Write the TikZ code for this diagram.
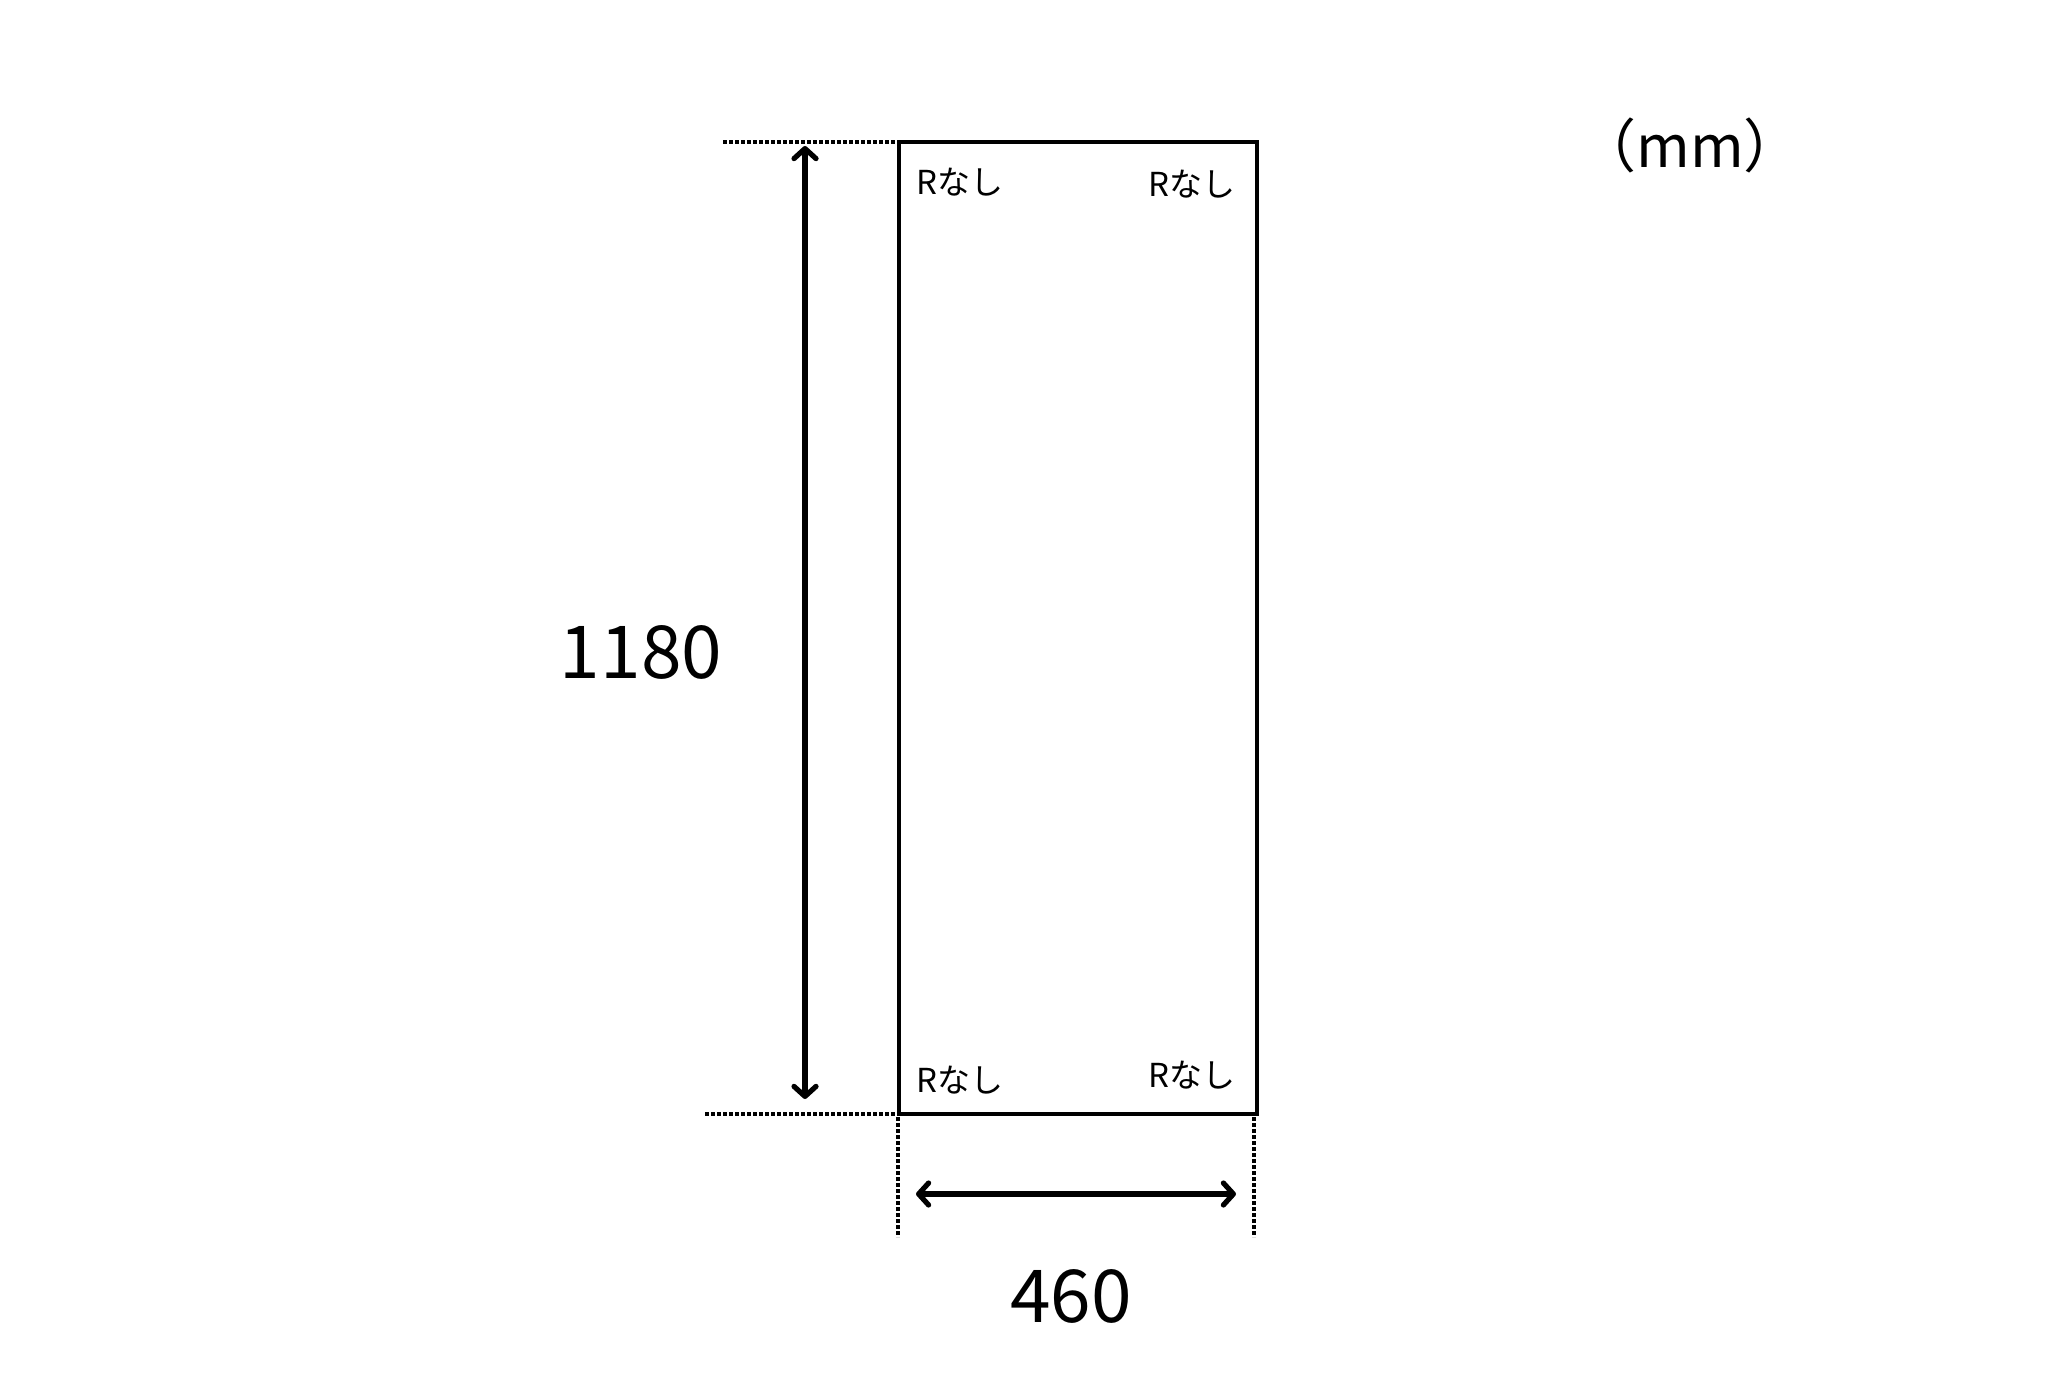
\documentclass[tikz,border=0pt]{standalone}
\usepackage{fontspec}
\setmainfont{Noto Sans CJK JP}
\usetikzlibrary{arrows.meta}
\tikzset{
  outline/.style={line width=2.3pt, line join=miter},
  dimline/.style={line width=2.6pt, line cap=round,
    arrows={Straight Barb[length=5pt,width=11pt,line cap=round,line join=round]-Straight Barb[length=5pt,width=11pt,line cap=round,line join=round]}},
  guide/.style={line width=2.1pt, dash pattern=on 1.8pt off 1.2pt},
  corner/.style={font=\fontsize{16.5}{18}\selectfont, inner sep=0pt},
  dimtext/.style={font=\fontsize{36.5}{40}\selectfont, inner sep=0pt, anchor=base},
}
\begin{document}
\begin{tikzpicture}[x=0.5pt,y=-0.5pt]
\useasboundingbox (0,0) rectangle (2067,1379);
% rectangle corners
\coordinate (tl) at (899,142);
\coordinate (tr) at (1257,142);
\coordinate (bl) at (899,1114);
\coordinate (br) at (1257,1114);
\draw[outline] (tl) rectangle (br);
% guide lines
\coordinate (gtop) at (723,142);
\coordinate (gbot) at (705,1114);
\coordinate (gbotr) at (913,1114);
\coordinate (gl1) at (898,1117);
\coordinate (gl2) at (898,1237);
\coordinate (gr1) at (1254,1117);
\coordinate (gr2) at (1254,1237);
\draw[guide] (gtop) -- (tl);
\draw[guide] (gbot) -- (gbotr);
\draw[guide] (gl1) -- (gl2);
\draw[guide] (gr1) -- (gr2);
% dimension arrows
\coordinate (va) at (805,146);
\coordinate (vb) at (805,1099);
\coordinate (ha) at (916,1194);
\coordinate (hb) at (1236,1194);
\draw[dimline] (va) -- (vb);
\draw[dimline] (ha) -- (hb);
% labels
\node[dimtext] (h) at (641,678) {1180};
\node[dimtext] (w) at (1071,1322) {460};
\node[font=\fontsize{29}{33}\selectfont, inner sep=0pt, anchor=base] (unit) at (1690,168) {（mm）};
\node[corner, anchor=base west] (c1) at (916,195) {Rなし};
\node[corner, anchor=base east] (c2) at (1236,197) {Rなし};
\node[corner, anchor=base west] (c3) at (916,1092) {Rなし};
\node[corner, anchor=base east] (c4) at (1236,1087) {Rなし};
\end{tikzpicture}
\end{document}
